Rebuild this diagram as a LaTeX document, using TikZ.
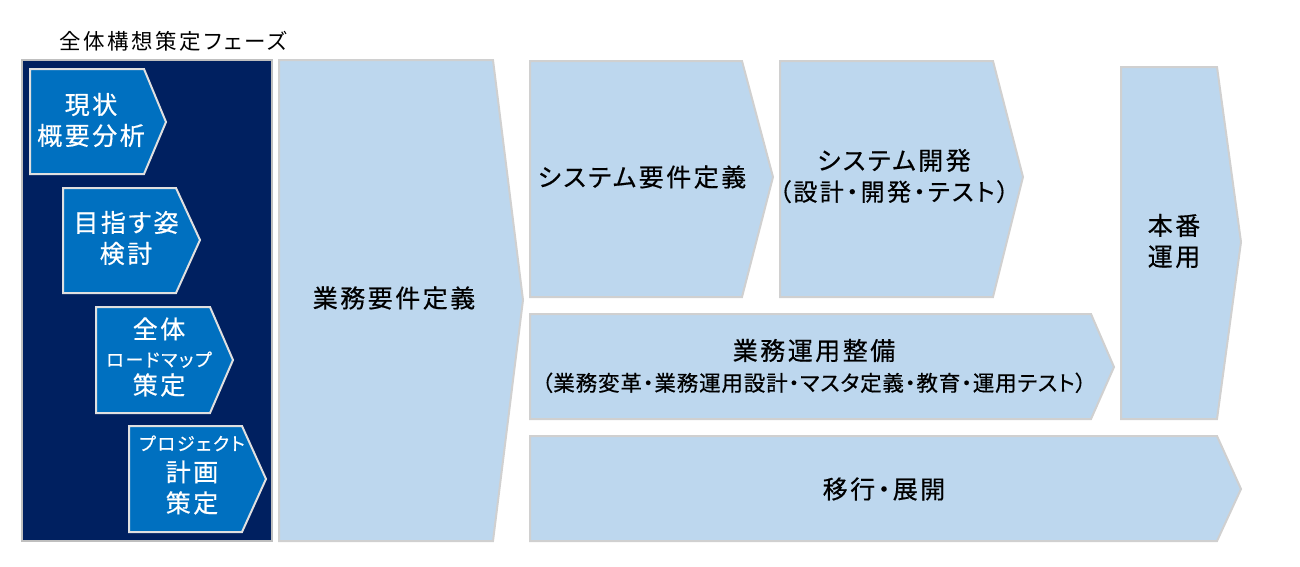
\documentclass[tikz,border=0pt]{standalone}
\usepackage{fontspec}
\setmainfont{Noto Sans CJK JP}[RawFeature=+palt, LetterSpace=10, FakeBold=0.5]
\newfontfamily\subfont{Noto Sans CJK JP}[RawFeature=+palt, LetterSpace=4, FakeBold=0.5]
\newfontfamily\titlefont{Noto Sans CJK JP}[RawFeature=+palt, LetterSpace=12]
\definecolor{navy}{HTML}{002060}
\definecolor{mblue}{HTML}{0070C0}
\definecolor{lblue}{HTML}{BDD7EE}
\definecolor{bord}{HTML}{D0D0D0}
\definecolor{pbord}{HTML}{BFBFBF}
\definecolor{wbord}{HTML}{E0E0E0}
\begin{document}
\begin{tikzpicture}[x=1pt,y=-1pt,
  lbox/.style={fill=lblue, draw=bord, line width=2pt, line join=miter},
  dbox/.style={fill=mblue, draw=wbord, line width=2pt, line join=miter},
  panel/.style={fill=navy, draw=pbord, line width=2pt},
  btxt/.style={font=\fontsize{25}{31}\selectfont, align=center, text=black, inner sep=0pt},
  wtxt/.style={font=\fontsize{25}{31}\selectfont, align=center, text=white, inner sep=0pt},
  ttxt/.style={font=\titlefont\fontsize{21.5}{30}\selectfont, text=black, inner sep=0pt}]
\useasboundingbox (0,0) rectangle (1300,566);
% title
\node[ttxt, anchor=west] (title) at (59,41) {全体構想策定フェーズ};
% left panel
\draw[panel] (22,60) rectangle (272,541);
\draw[dbox] (30,69) -- (144,69) -- (166,122) -- (144,174) -- (30,174) -- cycle;
\draw[dbox] (63,188) -- (176,188) -- (200,240) -- (176,293) -- (63,293) -- cycle;
\draw[dbox] (96,307) -- (210,307) -- (233,360) -- (210,413) -- (96,413) -- cycle;
\draw[dbox] (129,426) -- (242,426) -- (266,479) -- (242,532) -- (129,532) -- cycle;
\node[wtxt] (p1) at (91,120) {現状\\概要分析};
\node[wtxt] (p2) at (126,238) {目指す姿\\検討};
\node[wtxt] (p3) at (159,357) {全体\\[-3pt]{\fontsize{18}{20}\selectfont ロードマップ}\\[-3pt]策定};
\node[wtxt] (p4) at (192,475) {{\fontsize{18}{20}\selectfont プロジェクト}\\計画\\策定};
% phases
\draw[lbox] (279,60) -- (493,60) -- (523,300) -- (493,541) -- (279,541) -- cycle;
\draw[lbox] (530,61) -- (742,61) -- (773,177) -- (742,297) -- (530,297) -- cycle;
\draw[lbox] (780,61) -- (993,61) -- (1023,177) -- (993,297) -- (780,297) -- cycle;
\draw[lbox] (1121,67) -- (1217,67) -- (1241,242) -- (1217,419) -- (1121,419) -- cycle;
\draw[lbox] (530,314) -- (1091,314) -- (1114,367) -- (1091,419) -- (530,419) -- cycle;
\draw[lbox] (530,436) -- (1217,436) -- (1241,489) -- (1217,541) -- (530,541) -- cycle;
\node[btxt] (gyomu) at (394,298) {業務要件定義};
\node[btxt] (sysreq) at (642,177) {システム要件定義};
\node[btxt] (sysdev) at (894,176) {システム開発\\{\fontsize{24}{31}\selectfont（設計・開発・テスト）}};
\node[btxt] (honban) at (1174,241) {本番\\運用};
\node[btxt] (unyo) at (814,366) {業務運用整備\\{\subfont\fontsize{21.5}{29}\selectfont（業務変革・業務運用設計・マスタ定義・教育・運用テスト）}};
\node[btxt] (ikou) at (884,489) {移行・展開};
\end{tikzpicture}
\end{document}
